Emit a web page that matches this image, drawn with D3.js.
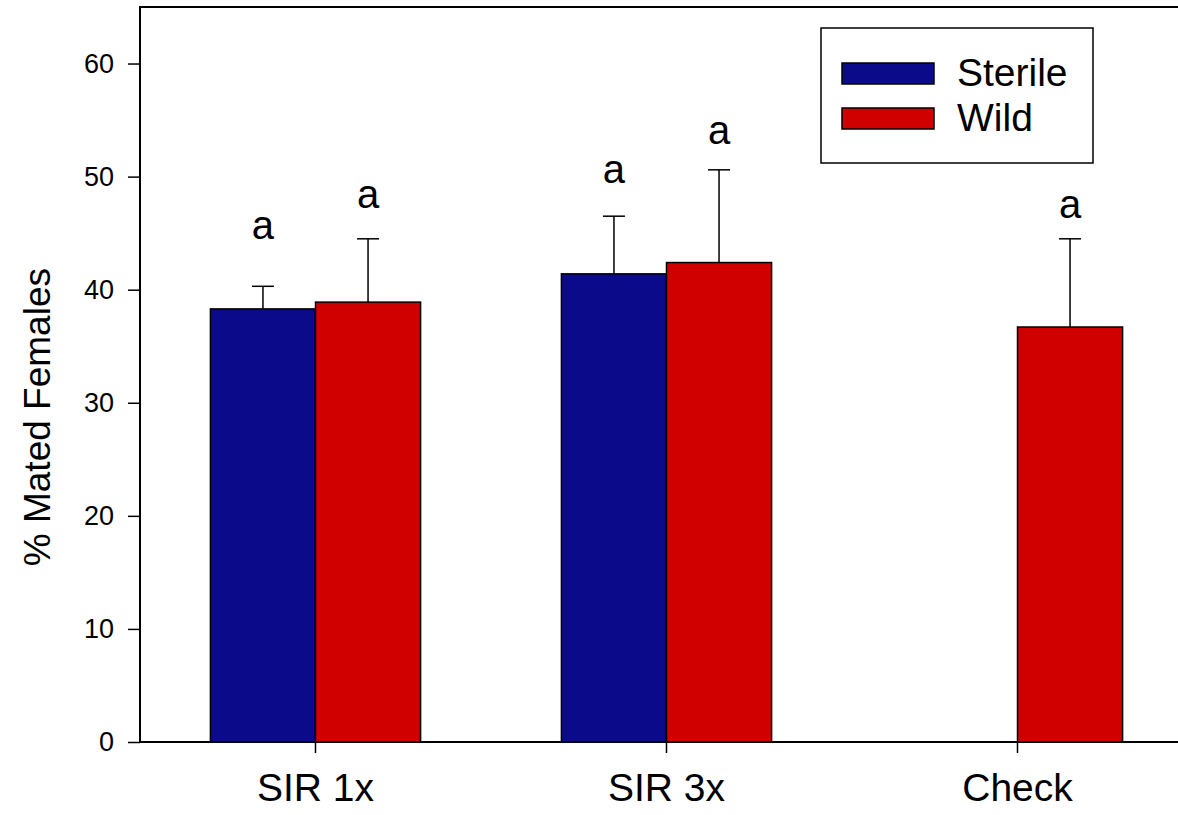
<!DOCTYPE html>
<html>
<head>
<meta charset="utf-8">
<script src="https://cdn.jsdelivr.net/npm/d3@7"></script>
<style>
  html, body { margin: 0; padding: 0; background: #fff; overflow: hidden; }
  svg { display: block; }
  text { font-family: Arial, "Liberation Sans", Helvetica, sans-serif; fill: #000; }
</style>
</head>
<body>
<svg id="chart"></svg>
<script>
var categories = ["SIR 1x", "SIR 3x", "Check"];
var seriesNames = ["Sterile", "Wild"];
var sterileMeans = [38.3, 41.4, null];
var sterileErr = [2.0, 5.1, null];
var wildMeans = [38.9, 42.4, 36.7];
var wildErr = [5.6, 8.2, 7.8];
var sterileLetters = ["a", "a", null];
var sterileLetterY = [44.5, 49.4, null];
var wildLetters = ["a", "a", "a"];
var wildLetterY = [47.2, 52.9, 46.3];
var yTicks = [0, 10, 20, 30, 40, 50, 60];
var colors = { "Sterile": "#0a0a8a", "Wild": "#d00000" };

function draw() {
  var margins = { "left": 140, "right": -15, "top": 7, "bottom": 73 };
  var fullW = 1178, fullH = 815;
  var width = fullW - margins.left - margins.right;
  var height = fullH - margins.top - margins.bottom;

  var svg = d3.select("#chart")
    .attr("width", fullW)
    .attr("height", fullH);

  var plot = svg.append("g")
    .attr("transform", "translate(" + margins.left + "," + margins.top + ")");

  var x = d3.scaleBand()
    .domain(categories)
    .range([0, width])
    .padding(0);

  var xSub = d3.scaleBand()
    .domain(seriesNames)
    .range([0, x.bandwidth()])
    .paddingInner(0)
    .paddingOuter(0.67);

  var y = d3.scaleLinear()
    .domain([0, 65])
    .range([height, 0]);

  // build rows from the arrays
  var rows = [];
  categories.forEach(function(c, i) {
    rows.push({ cat: c, s: "Sterile", v: sterileMeans[i], e: sterileErr[i], lab: sterileLetters[i], ly: sterileLetterY[i] });
    rows.push({ cat: c, s: "Wild", v: wildMeans[i], e: wildErr[i], lab: wildLetters[i], ly: wildLetterY[i] });
  });
  rows = rows.filter(function(d) { return d.v != null; });

  // error bars (upper only)
  var eb = plot.selectAll(".err")
    .data(rows)
    .enter()
    .append("g")
    .attr("class", "err");

  eb.append("line")
    .attr("x1", function(d) { return x(d.cat) + xSub(d.s) + xSub.bandwidth() / 2; })
    .attr("x2", function(d) { return x(d.cat) + xSub(d.s) + xSub.bandwidth() / 2; })
    .attr("y1", function(d) { return y(d.v); })
    .attr("y2", function(d) { return y(d.v + d.e); })
    .attr("stroke", "#000")
    .attr("stroke-width", 1.5);

  eb.append("line")
    .attr("x1", function(d) { return x(d.cat) + xSub(d.s) + xSub.bandwidth() / 2 - 11; })
    .attr("x2", function(d) { return x(d.cat) + xSub(d.s) + xSub.bandwidth() / 2 + 11; })
    .attr("y1", function(d) { return y(d.v + d.e); })
    .attr("y2", function(d) { return y(d.v + d.e); })
    .attr("stroke", "#000")
    .attr("stroke-width", 1.5);

  plot.selectAll(".bar")
    .data(rows)
    .enter()
    .append("rect")
    .attr("class", "bar")
    .attr("x", function(d) { return x(d.cat) + xSub(d.s); })
    .attr("y", function(d) { return y(d.v); })
    .attr("width", xSub.bandwidth())
    .attr("height", function(d) { return y(0) - y(d.v); })
    .attr("fill", function(d) { return colors[d.s]; })
    .attr("stroke", "#000")
    .attr("stroke-width", 1.5);

  plot.selectAll(".letter")
    .data(rows.filter(function(d) { return d.lab != null; }))
    .enter()
    .append("text")
    .attr("class", "letter")
    .attr("x", function(d) { return x(d.cat) + xSub(d.s) + xSub.bandwidth() / 2; })
    .attr("y", function(d) { return y(d.ly); })
    .attr("text-anchor", "middle")
    .style("font-size", "40px")
    .text(function(d) { return d.lab; });

  // frame (right side runs off the page, as in the figure)
  plot.append("rect")
    .attr("x", 0)
    .attr("y", 0)
    .attr("width", width + 60)
    .attr("height", height)
    .attr("fill", "none")
    .attr("stroke", "#000")
    .attr("stroke-width", 2);

  var yAxis = d3.axisLeft(y)
    .tickValues(yTicks)
    .tickSize(12)
    .tickPadding(14);

  var gy = plot.append("g").call(yAxis);
  gy.select(".domain").remove();
  gy.selectAll("line").attr("stroke-width", 1.5);
  gy.selectAll("text")
    .style("font-size", "27px")
    .style("font-family", "Arial, 'Liberation Sans', sans-serif");

  var xAxis = d3.axisBottom(x)
    .tickSize(11)
    .tickPadding(20);

  var gx = plot.append("g")
    .attr("transform", "translate(0," + height + ")")
    .call(xAxis);
  gx.select(".domain").remove();
  gx.selectAll("line").attr("stroke-width", 1.5);
  gx.selectAll("text")
    .style("font-size", "39px")
    .style("font-family", "Arial, 'Liberation Sans', sans-serif");

  svg.append("text")
    .attr("transform", "translate(50," + (margins.top + height * 0.558) + ") rotate(-90)")
    .attr("text-anchor", "middle")
    .style("font-size", "37px")
    .text("% Mated Females");

  // legend
  var legend = svg.append("g");
  legend.append("rect")
    .attr("x", 821).attr("y", 28)
    .attr("width", 272).attr("height", 135)
    .attr("fill", "#fff")
    .attr("stroke", "#000")
    .attr("stroke-width", 1.5);

  var items = legend.selectAll(".item")
    .data(seriesNames)
    .enter()
    .append("g")
    .attr("transform", function(d, i) { return "translate(842," + (63 + i * 45) + ")"; });

  items.append("rect")
    .attr("width", 92)
    .attr("height", 21)
    .attr("fill", function(d) { return colors[d]; })
    .attr("stroke", "#000")
    .attr("stroke-width", 1.5);

  items.append("text")
    .attr("x", 115)
    .attr("y", 23)
    .style("font-size", "39px")
    .text(function(d) { return d; });
}

draw();
</script>
</body>
</html>
